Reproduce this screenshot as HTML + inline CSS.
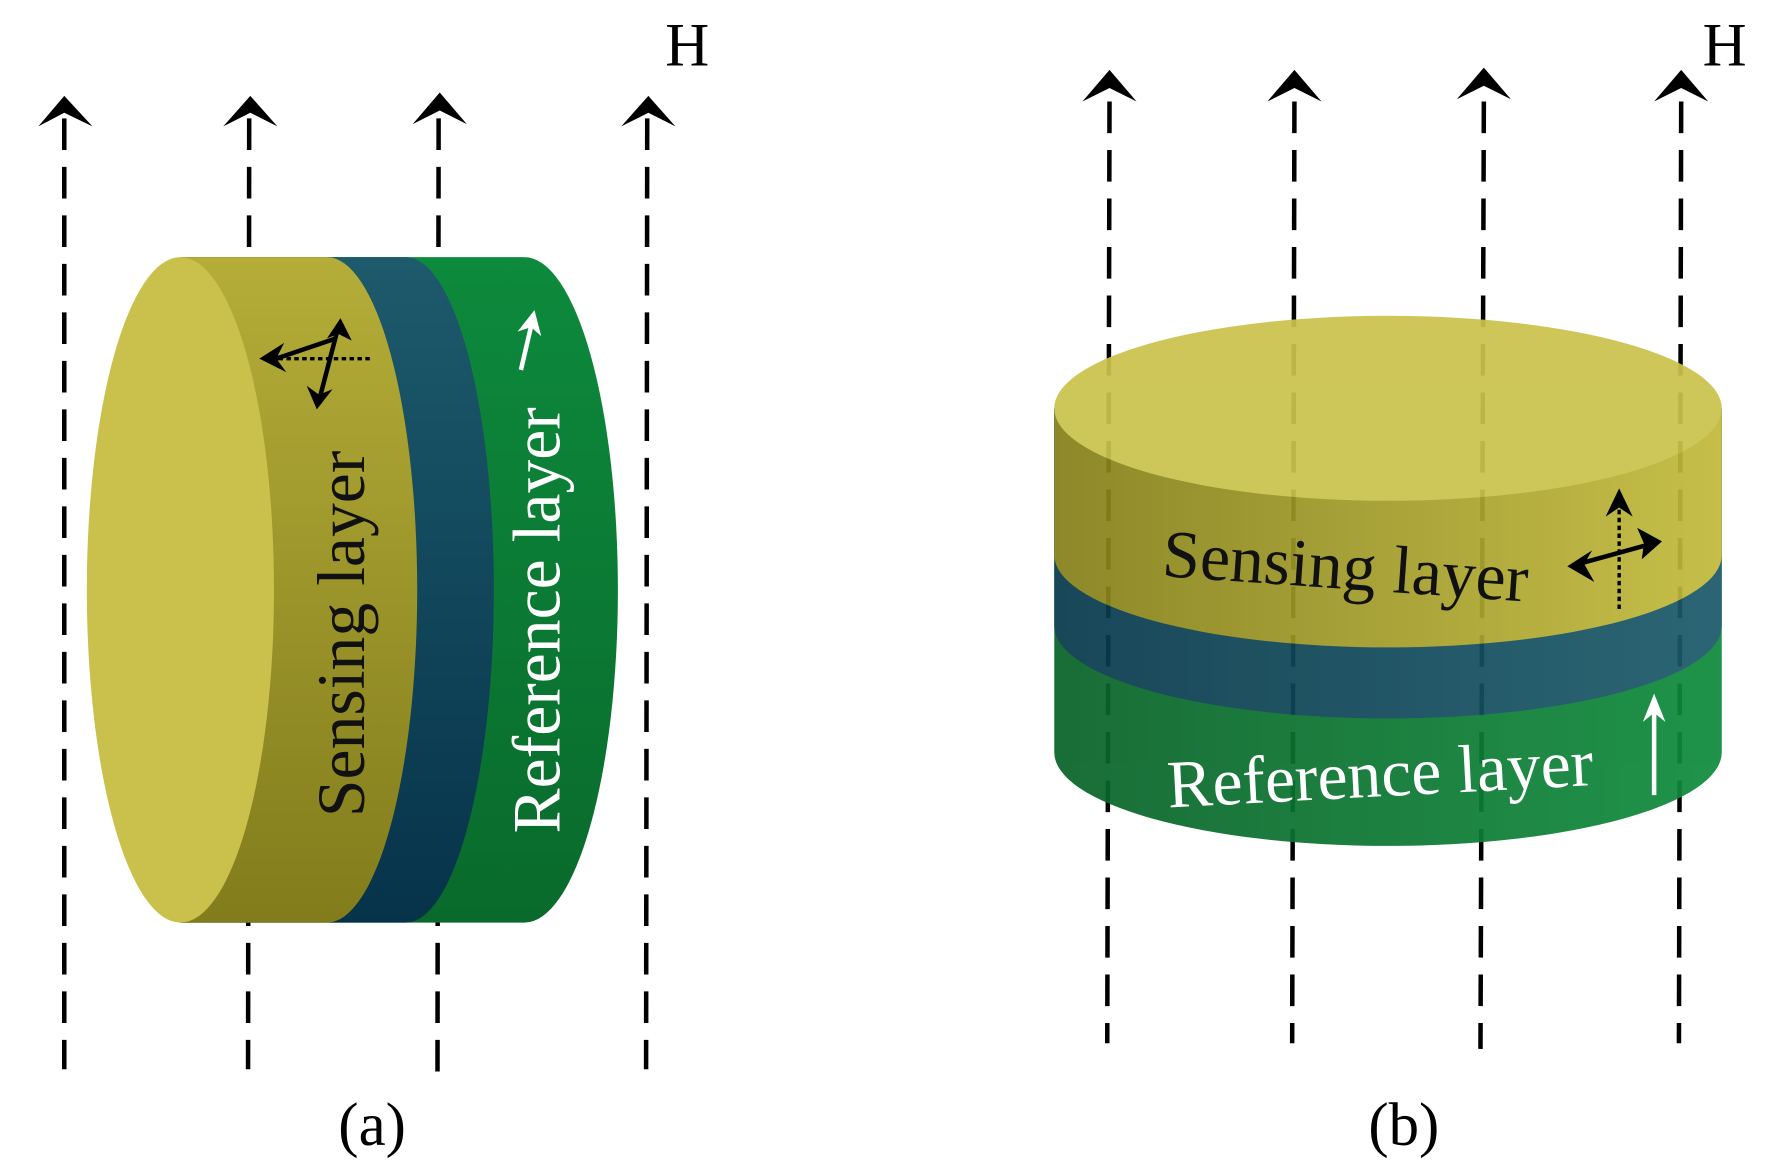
<!DOCTYPE html>
<html><head><meta charset="utf-8"><style>
html,body{margin:0;padding:0;background:#fff;}
svg{display:block;}
text{font-family:"Liberation Serif",serif;}
</style></head><body>
<svg width="1768" height="1173" viewBox="0 0 1568 1040" xmlns="http://www.w3.org/2000/svg" preserveAspectRatio="none">
<defs>
<linearGradient id="ysideA" x1="0" y1="0" x2="0" y2="1"><stop offset="0" stop-color="#b5ad38"/><stop offset="1" stop-color="#827c1c"/></linearGradient>
<linearGradient id="bA" x1="0" y1="0" x2="0" y2="1"><stop offset="0" stop-color="#1d5a6c"/><stop offset="1" stop-color="#06334a"/></linearGradient>
<linearGradient id="gA" x1="0" y1="0" x2="0" y2="1"><stop offset="0" stop-color="#0d8a3c"/><stop offset="1" stop-color="#096a2c"/></linearGradient>
<linearGradient id="yB" x1="0" y1="0" x2="1" y2="0"><stop offset="0" stop-color="#858019"/><stop offset="1" stop-color="#c2ba3c"/></linearGradient>
<linearGradient id="bB" x1="0" y1="0" x2="1" y2="0"><stop offset="0" stop-color="#073a4c"/><stop offset="1" stop-color="#1c5a6a"/></linearGradient>
<linearGradient id="gB" x1="0" y1="0" x2="1" y2="0"><stop offset="0" stop-color="#086328"/><stop offset="1" stop-color="#0f8b3c"/></linearGradient>
</defs>

<g stroke="#000" stroke-width="4" stroke-dasharray="28,15" fill="none">
<line x1="57" y1="105" x2="57" y2="948"/>
<line x1="221" y1="105" x2="220" y2="948"/>
<line x1="389" y1="105" x2="388" y2="952"/>
<line x1="574" y1="105" x2="573" y2="948"/>
</g>
<g fill="#000">
<path d="M57,85 L82,112 L57,100 L34,112 Z"/>
<path d="M222,85 L246,112 L222,100 L198,112 Z"/>
<path d="M390,82 L414,110 L390,98 L366,110 Z"/>
<path d="M575,85 L599,112 L575,100 L551,112 Z"/>
</g>
<text x="590" y="58" font-size="54">H</text>

<path d="M160,228 L465,228 A83,295 0 0 1 465,818 L160,818 Z" fill="url(#gA)"/>
<path d="M160,228 L360,228 A78,295 0 0 1 360,818 L160,818 Z" fill="url(#bA)"/>
<path d="M160,228 L290,228 A80,295 0 0 1 290,818 L160,818 Z" fill="url(#ysideA)"/>
<ellipse cx="160" cy="523" rx="83" ry="295" fill="#c9c14b"/>
<text transform="translate(323,562) rotate(-90)" font-size="60" text-anchor="middle" fill="#111">Sensing layer</text>
<text transform="translate(496,550) rotate(-90)" font-size="60" text-anchor="middle" fill="#fff">Reference layer</text>
<g stroke="#000" stroke-width="4" fill="none">
<line x1="240" y1="318" x2="330" y2="318" stroke-dasharray="4,3" stroke-width="3"/>
<line x1="300" y1="290" x2="283" y2="355"/>
<line x1="245" y1="318" x2="298" y2="300"/>
</g>
<g fill="#000">
<path d="M230,318 L252,304 L245,318 L254,330 Z"/>
<path d="M302,282 L312,302 L300,296 L290,300 Z"/>
<path d="M281,363 L272,342 L283,350 L295,345 Z"/>
</g>
<line x1="462" y1="328" x2="472" y2="285" stroke="#fff" stroke-width="4"/>
<path d="M474,275 L480,298 L471,290 L459,294 Z" fill="#fff"/>

<text x="330" y="1015" font-size="54" text-anchor="middle">(a)</text>

<g stroke="#000" stroke-width="4" stroke-dasharray="28,15" fill="none">
<line x1="984" y1="90" x2="982" y2="925"/>
<line x1="1148" y1="90" x2="1146" y2="925"/>
<line x1="1316" y1="90" x2="1313" y2="930"/>
<line x1="1491" y1="90" x2="1489" y2="925"/>
</g>
<g fill="#000">
<path d="M984,62 L1008,90 L984,78 L960,90 Z"/>
<path d="M1148,62 L1172,90 L1148,78 L1124,90 Z"/>
<path d="M1316,60 L1340,88 L1316,76 L1292,88 Z"/>
<path d="M1491,62 L1515,90 L1491,78 L1467,90 Z"/>
</g>
<text x="1510" y="58" font-size="54">H</text>

<g opacity="0.93">
<path d="M935,362 L1527,362 L1527,667 A296,83 0 0 1 935,667 Z" fill="url(#gB)"/>
<path d="M935,362 L1527,362 L1527,555 A296,82 0 0 1 935,555 Z" fill="url(#bB)"/>
<path d="M935,362 L1527,362 L1527,492 A296,82 0 0 1 935,492 Z" fill="url(#yB)"/>
<ellipse cx="1231" cy="362" rx="296" ry="82" fill="#cac24c"/>
</g>
<text transform="translate(1192,522) rotate(4)" font-size="60" text-anchor="middle" fill="#111">Sensing layer</text>
<text transform="translate(1225,706) rotate(-3)" font-size="60" text-anchor="middle" fill="#fff">Reference layer</text>
<g stroke="#000" stroke-width="4" fill="none">
<line x1="1436" y1="445" x2="1436" y2="540" stroke-dasharray="4,3" stroke-width="3"/>
<line x1="1400" y1="500" x2="1465" y2="482"/>
</g>
<g fill="#000">
<path d="M1390,502 L1412,488 L1405,500 L1414,516 Z"/>
<path d="M1474,480 L1452,468 L1458,482 L1456,496 Z"/>
<path d="M1436,433 L1448,458 L1436,450 L1424,458 Z"/>
</g>
<line x1="1467" y1="705" x2="1467" y2="625" stroke="#fff" stroke-width="4"/>
<path d="M1467,615 L1477,640 L1467,632 L1457,640 Z" fill="#fff"/>

<text x="1245" y="1015" font-size="54" text-anchor="middle">(b)</text>
</svg>
</body></html>
